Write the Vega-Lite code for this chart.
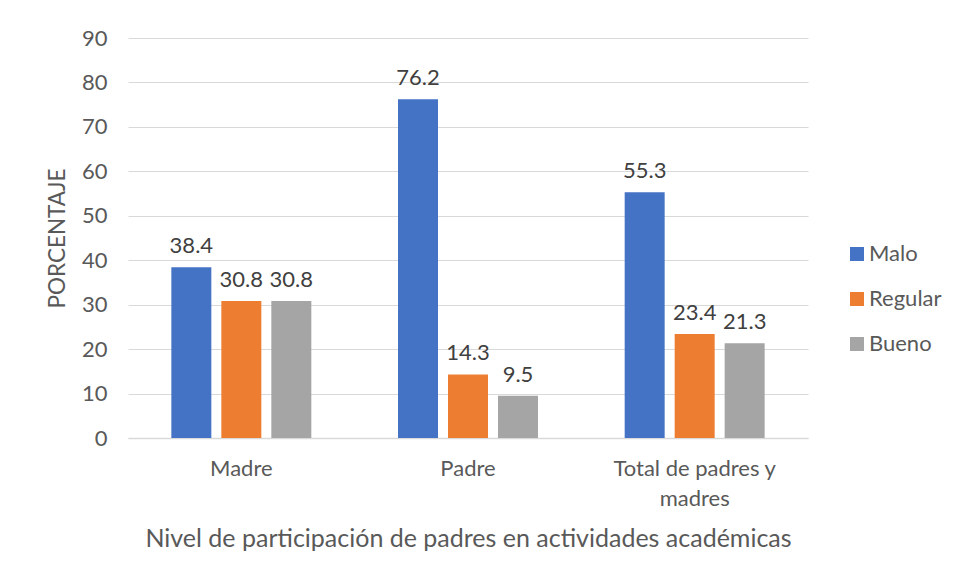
{
  "$schema": "https://vega.github.io/schema/vega-lite/v6.json",
  "autosize": "none",
  "width": 680,
  "height": 400,
  "padding": {"left": 128, "top": 38, "right": 148, "bottom": 142},
  "background": "white",
  "config": {
    "font": "Lato",
    "view": {"stroke": null}
  },
  "data": {
    "values": [
      {"grupo": "Madre", "nivel": "Malo", "porcentaje": 38.4},
      {"grupo": "Madre", "nivel": "Regular", "porcentaje": 30.8},
      {"grupo": "Madre", "nivel": "Bueno", "porcentaje": 30.8},
      {"grupo": "Padre", "nivel": "Malo", "porcentaje": 76.2},
      {"grupo": "Padre", "nivel": "Regular", "porcentaje": 14.3},
      {"grupo": "Padre", "nivel": "Bueno", "porcentaje": 9.5},
      {"grupo": "Total de padres y madres", "nivel": "Malo", "porcentaje": 55.3},
      {"grupo": "Total de padres y madres", "nivel": "Regular", "porcentaje": 23.4},
      {"grupo": "Total de padres y madres", "nivel": "Bueno", "porcentaje": 21.3}
    ]
  },
  "encoding": {
    "x": {
      "field": "grupo",
      "type": "nominal",
      "sort": null,
      "scale": {"paddingInner": 0, "paddingOuter": 0},
      "axis": {
        "title": "Nivel de participación de padres en actividades académicas",
        "titleFontSize": 25,
        "titleFontWeight": "normal",
        "titleColor": "#595959",
        "titlePadding": 17,
        "labelAngle": 0,
        "labelFontSize": 22,
        "labelColor": "#595959",
        "labelPadding": 20,
        "labelLineHeight": 30,
        "labelExpr": "datum.label == 'Total de padres y madres' ? ['Total de padres y', 'madres'] : datum.label",
        "domainColor": "#d9d9d9",
        "domainWidth": 1.5,
        "ticks": false
      }
    },
    "xOffset": {
      "field": "nivel",
      "type": "nominal",
      "sort": ["Malo", "Regular", "Bueno"],
      "scale": {"paddingInner": 0.2, "paddingOuter": 0.867}
    },
    "y": {
      "field": "porcentaje",
      "type": "quantitative",
      "scale": {"domain": [0, 90]},
      "axis": {
        "title": "PORCENTAJE",
        "titleFontSize": 22.5,
        "titleFontWeight": "normal",
        "titleColor": "#595959",
        "titlePadding": 12,
        "values": [0, 10, 20, 30, 40, 50, 60, 70, 80, 90],
        "labelFontSize": 22,
        "labelColor": "#595959",
        "labelPadding": 21,
        "domain": false,
        "ticks": false,
        "gridColor": "#d9d9d9",
        "gridWidth": 1.2
      }
    }
  },
  "layer": [
    {
      "mark": {"type": "bar"},
      "encoding": {
        "color": {
          "field": "nivel",
          "type": "nominal",
          "sort": ["Malo", "Regular", "Bueno"],
          "scale": {"domain": ["Malo", "Regular", "Bueno"], "range": ["#4472C4", "#ED7D31", "#A5A5A5"]},
          "legend": {
            "title": null,
            "orient": "none",
            "legendX": 718,
            "legendY": 205,
            "symbolType": "square",
            "symbolSize": 196,
            "symbolStrokeWidth": 0,
            "labelFontSize": 22,
            "labelColor": "#595959",
            "rowPadding": 23,
            "labelOffset": 1
          }
        }
      }
    },
    {
      "mark": {"type": "text", "baseline": "bottom", "dy": -9, "fontSize": 22, "color": "#404040"},
      "encoding": {
        "text": {"field": "porcentaje", "type": "quantitative", "format": ".1f"}
      }
    }
  ]
}
